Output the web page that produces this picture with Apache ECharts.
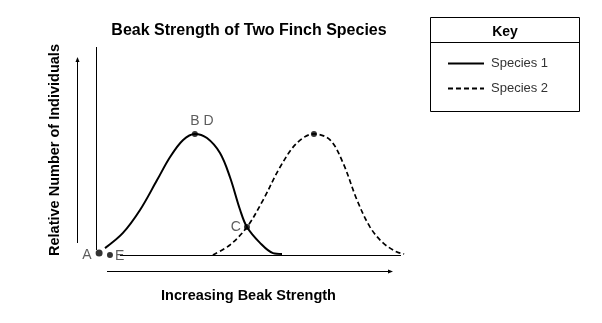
<!DOCTYPE html>
<html>
<head>
<meta charset="utf-8">
<script src="https://cdn.jsdelivr.net/npm/echarts@6/dist/echarts.min.js"></script>
<style>
html,body{margin:0;padding:0;background:#fff;}
#c{width:602px;height:323px;}
</style>
</head>
<body>
<div id="c"></div>
<script>
// Species 1 (solid) curve
const s1X = [2.9, 8.7, 14.2, 19.7, 23.9, 28.1, 31.9, 35.8, 40.0, 43.2, 46.5, 48.7, 52.9, 57.1, 60.0];
const s1Y = [3.8, 11.1, 22.1, 36.5, 47.6, 55.8, 58.7, 56.7, 49.5, 38.0, 22.1, 13.9, 6.3, 1.4, 1.0];
// Species 2 (dashed) curve
const s2X = [37.7, 43.2, 48.7, 53.9, 59.4, 64.8, 70.3, 75.5, 79.7, 84.2, 88.4, 92.6, 97.1, 99.4];
const s2Y = [0.5, 5.3, 13.9, 26.9, 42.8, 54.3, 58.7, 55.8, 44.7, 26.9, 13.9, 6.3, 1.9, 1.0];
// Labelled points
const ptNames = ['A', 'E', 'B D', 'C', ''];
const ptX = [1.0, 4.5, 31.9, 48.7, 70.3];
const ptY = [1.4, 0.5, 58.7, 13.9, 58.7];
const seriesNames = ['Species 1', 'Species 2'];
const titleText = 'Beak Strength of Two Finch Species';
const xTitle = 'Increasing Beak Strength';
const yTitle = 'Relative Number of Individuals';
const keyTitle = 'Key';

const chart = echarts.init(document.getElementById('c'), null, {renderer: 'canvas'});
const font = 'Arial, "Liberation Sans", sans-serif';
const labelPos = {'A': {position: 'left', distance: 4, offset: [0, 2]}, 'E': {position: 'right', distance: 2, offset: [0, 1]},
  'B D': {position: 'top', distance: 3, offset: [7, 0]}, 'C': {position: 'left', distance: 3}, '': {show: false}};

const pts = ptNames.map((n, i) => ({
  value: [ptX[i], ptY[i]], name: n,
  symbolSize: n === 'A' ? 7 : 6,
  label: Object.assign({show: true, formatter: n}, labelPos[n])
}));

chart.setOption({
  animation: false,
  backgroundColor: '#fff',
  textStyle: {fontFamily: font},
  title: {
    text: titleText, left: 249, top: 23, textAlign: 'center', padding: 0,
    textStyle: {fontFamily: font, fontSize: 16, fontWeight: 'bold', color: '#000'}
  },
  legend: {
    data: seriesNames, orient: 'vertical', left: 447, top: 57, padding: 0,
    itemWidth: 36, itemHeight: 14, itemGap: 12,
    itemStyle: {opacity: 0},
    textStyle: {fontFamily: font, fontSize: 13, color: '#333', padding: [0, 0, 0, 2]}
  },
  grid: {left: 96, top: 48, width: 310, height: 208, containLabel: false},
  xAxis: {
    type: 'value', min: 0, max: 100,
    axisLine: {show: false}, axisTick: {show: false}, axisLabel: {show: false}, splitLine: {show: false}
  },
  yAxis: {
    type: 'value', min: 0, max: 100,
    axisLine: {show: false}, axisTick: {show: false}, axisLabel: {show: false}, splitLine: {show: false}
  },
  graphic: [
    // key box
    {type: 'rect', shape: {x: 430.5, y: 17.5, width: 149, height: 94}, style: {fill: '#fff', stroke: '#000', lineWidth: 1}, z: -1},
    {type: 'line', shape: {x1: 430, y1: 42.5, x2: 580, y2: 42.5}, style: {stroke: '#000', lineWidth: 1}},
    {type: 'text', x: 505, y: 32, style: {text: keyTitle, font: 'bold 14px ' + font, fill: '#000', align: 'center', verticalAlign: 'middle'}},
    // y axis line
    {type: 'line', shape: {x1: 96.5, y1: 47, x2: 96.5, y2: 250}, style: {stroke: '#000', lineWidth: 1}},
    // baseline
    {type: 'line', shape: {x1: 120, y1: 255.5, x2: 401, y2: 255.5}, style: {stroke: '#000', lineWidth: 1}},
    // y arrow
    {type: 'line', shape: {x1: 77.5, y1: 59, x2: 77.5, y2: 243}, style: {stroke: '#000', lineWidth: 1}},
    {type: 'polygon', shape: {points: [[77.5, 57], [75.5, 62], [79.5, 62]]}, style: {fill: '#000'}},
    // x arrow
    {type: 'line', shape: {x1: 107, y1: 271.5, x2: 390, y2: 271.5}, style: {stroke: '#000', lineWidth: 1}},
    {type: 'polygon', shape: {points: [[393, 271.5], [388, 269.5], [388, 273.5]]}, style: {fill: '#000'}},
    // axis titles
    {type: 'text', x: 248.5, y: 296, style: {text: xTitle, font: 'bold 14.5px ' + font, fill: '#000', align: 'center', verticalAlign: 'middle'}},
    {type: 'text', x: 55, y: 150, rotation: Math.PI / 2, style: {text: yTitle, font: 'bold 14.5px ' + font, fill: '#000', align: 'center', verticalAlign: 'middle'}}
  ],
  series: [
    {
      name: seriesNames[0], type: 'line', smooth: 0.35, showSymbol: false, symbol: 'none',
      data: s1X.map((x, i) => [x, s1Y[i]]),
      lineStyle: {color: '#000', width: 2, type: 'solid'}, itemStyle: {color: '#000'}
    },
    {
      name: seriesNames[1], type: 'line', smooth: 0.35, showSymbol: false, symbol: 'none',
      data: s2X.map((x, i) => [x, s2Y[i]]),
      lineStyle: {color: '#000', width: 1.7, type: [5, 3]}, itemStyle: {color: '#000'}
    },
    {
      name: 'points', type: 'scatter', symbol: 'circle', z: 5,
      itemStyle: {color: '#000'},
      label: {fontFamily: font, fontSize: 14, color: '#333'},
      data: pts
    }
  ]
});
</script>
</body>
</html>
